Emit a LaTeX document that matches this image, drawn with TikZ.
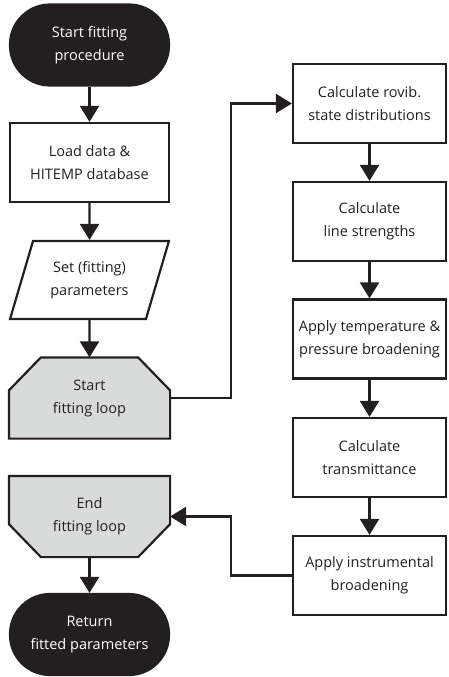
\documentclass[tikz,border=0pt]{standalone}
\usepackage{fontspec}
\setmainfont{Open Sans}
\usetikzlibrary{arrows.meta,calc,positioning,shapes.geometric,backgrounds}
\definecolor{FlowInk}{RGB}{35,31,32}
\definecolor{LoopGray}{RGB}{217,219,218}
\tikzset{
  box/.style={draw=FlowInk,line width=2.2pt,minimum width=159pt,minimum height=79pt,
    inner sep=0pt,align=center,text=FlowInk,font=\fontsize{14.5}{23}\selectfont},
  rbox/.style={box,minimum width=153pt},
  terminal/.style={box,fill=FlowInk,text=white,rounded corners=40pt,minimum height=81pt},
  ioshape/.style={box,trapezium,trapezium left angle=67,trapezium right angle=113,
    trapezium stretches=true,minimum height=78pt},
  loopnode/.style={box,draw=none},
  loopline/.style={draw=FlowInk,fill=LoopGray,line width=2.2pt},
  arr/.style={draw=FlowInk,line width=2.2pt,-{Triangle[width=19pt,length=16pt]}}
}

\begin{document}
\begin{tikzpicture}[x=1pt,y=-1pt]
\useasboundingbox (0,0) rectangle (448,677);
% left column
\node[terminal] (start) at (89.5,45) {Start fitting\\procedure};
\node[box] (load) at (89.5,162.5) {Load data \&\\HITEMP database};
\node[ioshape] (params) at (89.5,280) {Set (fitting)\\parameters};
\node[loopnode] (sloop) at (89.5,398) {Start\\fitting loop};
\node[loopnode] (eloop) at (89.5,516.5) {End\\fitting loop};
\node[terminal] (ret) at (89.5,634.5) {Return\\fitted parameters};
% right column
\node[rbox] (rovib) at (369.5,103.5) {Calculate rovib.\\state distributions};
\node[rbox] (lines) at (369.5,221.5) {Calculate\\line strengths};
\node[rbox] (broad) at (369.5,339) {Apply temperature \&\\pressure broadening};
\node[rbox] (trans) at (369.5,457.5) {Calculate\\transmittance};
\node[rbox] (instr) at (369.5,575.5) {Apply instrumental\\broadening};
% loop outlines, chamfered
\begin{scope}[on background layer]
\draw[loopline] (sloop.south west) -- ($(sloop.north west)+(0,33)$)
  -- ($(sloop.north west)+(32,0)$) -- ($(sloop.north east)+(-32,0)$)
  -- ($(sloop.north east)+(0,33)$) -- (sloop.south east) -- cycle;
\draw[loopline] (eloop.north west) -- ($(eloop.south west)+(0,-33)$)
  -- ($(eloop.south west)+(32,0)$) -- ($(eloop.south east)+(-32,0)$)
  -- ($(eloop.south east)+(0,-33)$) -- (eloop.north east) -- cycle;
\end{scope}
\coordinate (upbend) at (231,398);
\coordinate (downbend) at (231,575.5);
% connectors
\draw[arr] (start) -- (load);
\draw[arr] (load) -- (params);
\draw[arr] (params) -- (sloop);
\draw[arr] (eloop) -- (ret);
\draw[arr] (rovib) -- (lines);
\draw[arr] (lines) -- (broad);
\draw[arr] (broad) -- (trans);
\draw[arr] (trans) -- (instr);
\draw[arr] (sloop.east) -- (upbend) |- (rovib.west);
\draw[arr] (instr.west) -- (downbend) |- (eloop.east);
\end{tikzpicture}
\end{document}
